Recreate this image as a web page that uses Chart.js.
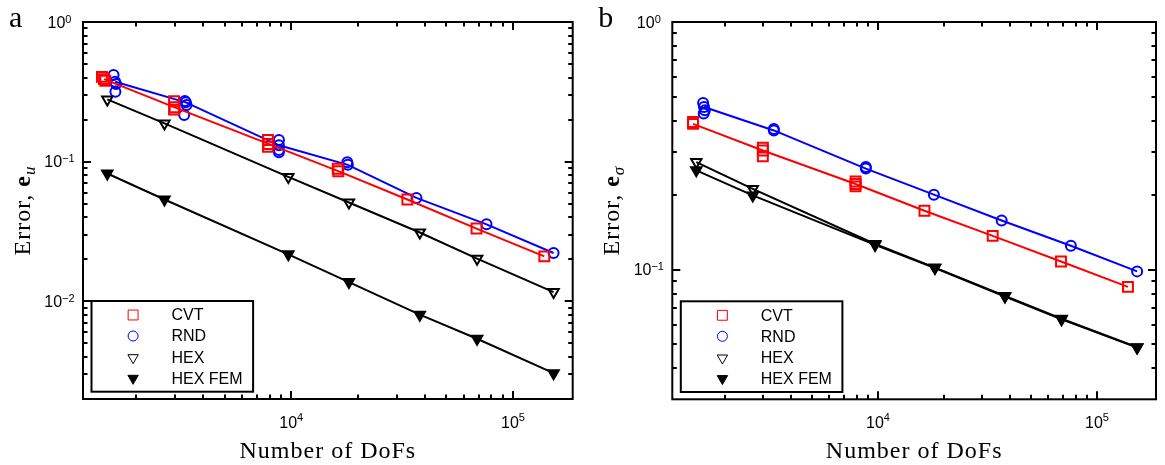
<!DOCTYPE html>
<html>
<head>
<meta charset="utf-8">
<script src="https://cdn.jsdelivr.net/npm/chart.js@4/dist/chart.umd.min.js"></script>
<style>
  body { margin: 0; background: #fff; }
  .panel { position: absolute; top: 0; height: 465px; }
</style>
</head>
<body>
<div class="panel" style="left:0;width:582px"><canvas id="chartA"></canvas></div>
<div class="panel" style="left:582px;width:583px"><canvas id="chartB"></canvas></div>
<script>
// Convergence of the error norms against mesh size (log-log), two panels:
// (a) displacement error e_u, (b) stress error e_sigma.

// labelled decades on each axis (10^n)
const xDecades = [4, 5]
const yDecadesA = [0, -1, -2]
const yDecadesB = [0, -1]

// degrees of freedom of each mesh family
const dofsCVT = [1430, 2980, 7900, 16300, 33400, 68500, 138500]
const dofsRND = [1605, 3345, 8800, 18000, 36700, 76000, 152500]
const dofsHEX = [1480, 2680, 9700, 18200, 38000, 68900, 152500]

// (a) displacement error, mean over seeds
const euCVT = [0.390, 0.245, 0.134, 0.0855, 0.0536, 0.0332, 0.0210]
const euRND = [0.373, 0.266, 0.131, 0.0949, 0.0550, 0.0356, 0.0222]
const euHEX = [0.279, 0.188, 0.0778, 0.0510, 0.0311, 0.0202, 0.01166]
const euHEXFEM = [0.0823, 0.0536, 0.0217, 0.01375, 0.00803, 0.0054, 0.00306]

// (a) individual seeds off the mean
const euCVTRunsDofs = [1400, 1450, 2960, 2960, 7850, 7850, 16200]
const euCVTRuns = [0.405, 0.380, 0.271, 0.236, 0.143, 0.128, 0.089]
const euRNDRunsDofs = [1580, 1620, 1610, 3310, 3290, 3370, 8800, 8800, 8800, 17900]
const euRNDRuns = [0.417, 0.360, 0.317, 0.272, 0.216, 0.255, 0.143, 0.121, 0.117, 0.099]

// (b) stress error, mean over seeds
const esCVT = [0.388, 0.303, 0.222, 0.173, 0.137, 0.108, 0.0853]
const esRND = [0.454, 0.365, 0.256, 0.201, 0.158, 0.125, 0.0985]
const esHEX = [0.272, 0.212, 0.127, 0.1020, 0.0784, 0.0634, 0.0487]
const esHEXFEM = [0.252, 0.1995, 0.126, 0.1016, 0.078, 0.0631, 0.0485]

// (b) individual seeds off the mean
const esCVTRunsDofs = [1430, 2980, 2980, 7900, 7900]
const esCVTRuns = [0.395, 0.311, 0.287, 0.227, 0.217]
const esRNDRunsDofs = [1590, 1600, 1620, 3345, 8800]
const esRNDRuns = [0.471, 0.427, 0.440, 0.370, 0.260]

const STYLES = {
  CVT: { label: "CVT", color: "#ff0000", pointStyle: "rect", radius: 7, filled: false },
  RND: { label: "RND", color: "#0000ff", pointStyle: "circle", radius: 5, filled: false },
  HEX: { label: "HEX", color: "#000000", pointStyle: "triangle", radius: 6, rotation: 180, filled: false },
  HEXFEM: { label: "HEX FEM", color: "#000000", pointStyle: "triangle", radius: 6, rotation: 180, filled: true }
}

const SANS = "'Liberation Sans', Arial, sans-serif"
const SERIF = "'Liberation Serif', 'Times New Roman', serif"

const zip = (xs, ys) => xs.map((x, i) => ({ x, y: ys[i] }))

function seriesSet(st, xs, ys, withLine) {
  return {
    label: st.label,
    data: zip(xs, ys),
    showLine: withLine,
    borderColor: st.color,
    borderWidth: 2,
    pointStyle: st.pointStyle,
    pointRadius: st.radius,
    pointRotation: st.rotation || 0,
    pointBorderColor: st.color,
    pointBorderWidth: 2,
    pointBackgroundColor: st.filled ? st.color : "rgba(0,0,0,0)"
  }
}

function drawMarker(ctx, st, x, y, lw) {
  ctx.save()
  ctx.strokeStyle = st.color
  ctx.fillStyle = st.filled ? st.color : "rgba(0,0,0,0)"
  ctx.lineWidth = lw
  Chart.helpers.drawPoint(ctx, {
    pointStyle: st.pointStyle, rotation: st.rotation || 0, radius: st.radius, borderWidth: lw
  }, x, y)
  ctx.restore()
}

// draws runs of differently styled text centred on cx
function drawRich(ctx, parts, cx, baseY) {
  let w = 0
  parts.forEach((p) => { ctx.font = p.font; p.w = ctx.measureText(p.text).width; w += p.w })
  let x = cx - w / 2
  parts.forEach((p) => {
    ctx.font = p.font
    ctx.fillText(p.text, x, baseY + (p.dy || 0))
    x += p.w
  })
}

const pow10 = (n, dy) => [
  { text: "10", font: `16px ${SANS}` },
  { text: n < 0 ? "\u2212" + (-n) : String(n), font: `11px ${SANS}`, dy }
]

// tick positions (in pixels) of 1..9 x 10^n that fall inside [lo, hi]
function logTickPixels(scale, lo, hi) {
  const out = []
  for (let n = -4; n <= 7; n++) {
    for (let m = 1; m <= 9; m++) {
      const p = scale.getPixelForValue(m * Math.pow(10, n))
      if (Number.isFinite(p) && p > lo + 1 && p < hi - 1) out.push({ p: Math.round(p), major: m === 1 })
    }
  }
  return out
}

// box, inward ticks on all four sides, tick labels, titles and legend
const axisFrame = {
  id: "axisFrame",
  afterDatasetsDraw(chart, args, opts) {
    const { ctx, chartArea: a, scales } = chart
    const xs = scales.x, ys = scales.y
    ctx.save()
    ctx.strokeStyle = "#000"
    ctx.fillStyle = "#000"
    ctx.lineWidth = 2
    ctx.setLineDash([])

    const seg = (x0, y0, x1, y1) => {
      ctx.beginPath(); ctx.moveTo(x0, y0); ctx.lineTo(x1, y1); ctx.stroke()
    }
    logTickPixels(xs, a.left, a.right).forEach(({ p, major }) => {
      const len = major ? 8 : 4.5
      seg(p, a.bottom, p, a.bottom - len)
      seg(p, a.top, p, a.top + len)
    })
    logTickPixels(ys, a.top, a.bottom).forEach(({ p, major }) => {
      const len = major ? 8 : 4.5
      seg(a.left, p, a.left + len, p)
      seg(a.right, p, a.right - len, p)
    })
    ctx.strokeRect(a.left, a.top, a.right - a.left, a.bottom - a.top)

    ctx.textBaseline = "alphabetic"
    xDecades.forEach((n) => {
      drawRich(ctx, pow10(n, -7.5), xs.getPixelForValue(Math.pow(10, n)), a.bottom + 29)
    })
    opts.yDecades.forEach((n) => {
      drawRich(ctx, pow10(n, -5), a.left - 23.5, ys.getPixelForValue(Math.pow(10, n)) + 5.5)
    })

    // axis titles
    ctx.letterSpacing = "1px"
    drawRich(ctx, [{ text: "Number of DoFs", font: `24px ${SERIF}` }], (a.left + a.right) / 2, a.bottom + 58.7)
    ctx.save()
    ctx.translate(a.left - 53, (a.top + a.bottom) / 2)
    ctx.rotate(-Math.PI / 2)
    drawRich(ctx, [
      { text: "Error, ", font: `24px ${SERIF}` },
      { text: "e", font: `bold 24px ${SERIF}` },
      { text: opts.sub, font: `italic 17px ${SERIF}`, dy: 5 }
    ], 0, 0)
    ctx.restore()
    ctx.letterSpacing = "0px"

    // panel letter
    ctx.font = `30px ${SERIF}`
    ctx.fillText(opts.letter, a.left - 74, 27)

    // legend box in the lower left corner
    const bx = a.left + 8.5, bw = 161.6
    const by = a.bottom - 98, bh = 90.7
    ctx.fillStyle = "#fff"
    ctx.fillRect(bx, by, bw, bh)
    ctx.strokeRect(bx, by, bw, bh)
    const rows = [14, 35, 56.7, 77.3]
    ;[STYLES.CVT, STYLES.RND, STYLES.HEX, STYLES.HEXFEM].forEach((st, i) => {
      drawMarker(ctx, st, bx + 41.6, by + rows[i], 1)
      ctx.fillStyle = "#000"
      ctx.font = `16px ${SANS}`
      ctx.textBaseline = "middle"
      ctx.fillText(st.label, bx + 80, by + rows[i] + 1)
    })
    ctx.restore()
  }
}

function makeChart(id, cfg) {
  return new Chart(document.getElementById(id), {
    type: "scatter",
    data: { datasets: cfg.datasets },
    options: {
      responsive: true,
      maintainAspectRatio: false,
      animation: false,
      layout: { padding: cfg.padding },
      scales: {
        x: { type: "logarithmic", min: 1150, max: 186000, display: false },
        y: { type: "logarithmic", min: cfg.yMin, max: cfg.yMax, display: false }
      },
      plugins: {
        legend: { display: false },
        tooltip: { enabled: false },
        axisFrame: cfg.frame
      }
    },
    plugins: [axisFrame]
  })
}

makeChart("chartA", {
  padding: { left: 83, top: 22, right: 9.3, bottom: 66 },
  yMin: 0.002,
  yMax: 1,
  frame: { letter: "a", sub: "u", yDecades: yDecadesA },
  datasets: [
    seriesSet(STYLES.CVT, dofsCVT, euCVT, true),
    seriesSet(STYLES.CVT, euCVTRunsDofs, euCVTRuns, false),
    seriesSet(STYLES.RND, dofsRND, euRND, true),
    seriesSet(STYLES.RND, euRNDRunsDofs, euRNDRuns, false),
    seriesSet(STYLES.HEX, dofsHEX, euHEX, true),
    seriesSet(STYLES.HEXFEM, dofsHEX, euHEXFEM, true)
  ]
})

makeChart("chartB", {
  padding: { left: 90.3, top: 22, right: 3.3, bottom: 65.7 },
  yMin: 0.03,
  yMax: 1,
  frame: { letter: "b", sub: "\u03c3", yDecades: yDecadesB },
  datasets: [
    seriesSet(STYLES.CVT, dofsCVT, esCVT, true),
    seriesSet(STYLES.CVT, esCVTRunsDofs, esCVTRuns, false),
    seriesSet(STYLES.RND, dofsRND, esRND, true),
    seriesSet(STYLES.RND, esRNDRunsDofs, esRNDRuns, false),
    seriesSet(STYLES.HEX, dofsHEX, esHEX, true),
    seriesSet(STYLES.HEXFEM, dofsHEX, esHEXFEM, true)
  ]
})
</script>
</body>
</html>
